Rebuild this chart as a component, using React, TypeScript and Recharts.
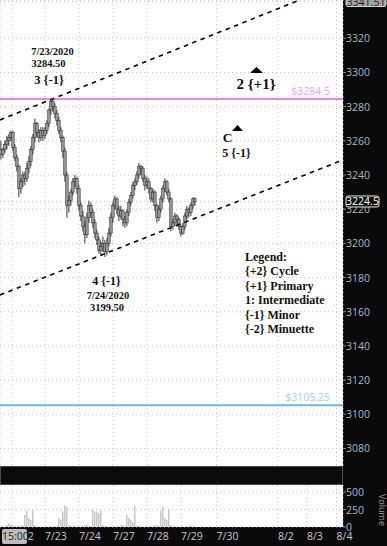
import React from 'react';
import {
  ComposedChart,
  Bar,
  XAxis,
  YAxis,
  CartesianGrid,
  ReferenceLine,
  ReferenceDot,
} from 'recharts';

// ---------- data ----------
// hourly-ish bars: [open, high, low, close]
const candles: [number, number, number, number][] = [
  [3255, 3260, 3249, 3252], [3252, 3256, 3250, 3255], [3255, 3260, 3253, 3258], [3258, 3263, 3255, 3260],
  [3260, 3264, 3257, 3262], [3262, 3266, 3260, 3265], [3265, 3266, 3254, 3256], [3256, 3258, 3248, 3250],
  [3250, 3252, 3242, 3245], [3245, 3246, 3227, 3232], [3232, 3238, 3229, 3236], [3236, 3242, 3233, 3240],
  [3240, 3242, 3234, 3238], [3238, 3247, 3236, 3244], [3244, 3251, 3241, 3248], [3248, 3257, 3245, 3255],
  [3255, 3264, 3252, 3262], [3262, 3273, 3259, 3270], [3270, 3271, 3262, 3265], [3265, 3267, 3259, 3262],
  [3262, 3268, 3260, 3266], [3266, 3268, 3260, 3263], [3263, 3268, 3261, 3266], [3266, 3272, 3264, 3270],
  [3270, 3279, 3268, 3278], [3278, 3284.5, 3275, 3283], [3283, 3284, 3277, 3280], [3280, 3282, 3273, 3276],
  [3276, 3278, 3269, 3272], [3272, 3274, 3264, 3266], [3266, 3268, 3259, 3262], [3262, 3263, 3250, 3254],
  [3254, 3256, 3236, 3240], [3240, 3242, 3215, 3222], [3222, 3228, 3218, 3225], [3225, 3232, 3222, 3230],
  [3230, 3238, 3228, 3236], [3236, 3240, 3233, 3238], [3238, 3239, 3229, 3232], [3232, 3234, 3219, 3222],
  [3222, 3224, 3213, 3216], [3216, 3219, 3207, 3210], [3210, 3213, 3200, 3205], [3205, 3218, 3203, 3215],
  [3215, 3225, 3212, 3222], [3222, 3224, 3215, 3218], [3218, 3220, 3209, 3212], [3212, 3214, 3203, 3206],
  [3206, 3208, 3199, 3202], [3202, 3204, 3194, 3196], [3196, 3201, 3193, 3198], [3198, 3204, 3195, 3200],
  [3200, 3202, 3192, 3195], [3195, 3203, 3193, 3200], [3200, 3209, 3198, 3206], [3206, 3218, 3204, 3215],
  [3215, 3224, 3212, 3222], [3222, 3228, 3220, 3226], [3226, 3227, 3217, 3220], [3220, 3222, 3213, 3216],
  [3216, 3222, 3214, 3219], [3219, 3220, 3210, 3214], [3214, 3216, 3209, 3212], [3212, 3220, 3210, 3218],
  [3218, 3226, 3216, 3224], [3224, 3230, 3222, 3228], [3228, 3236, 3226, 3234], [3234, 3238, 3231, 3236],
  [3236, 3242, 3234, 3240], [3240, 3247, 3238, 3245], [3245, 3246, 3240, 3244], [3244, 3245, 3236, 3238],
  [3238, 3240, 3231, 3234], [3234, 3239, 3232, 3236], [3236, 3238, 3229, 3232], [3232, 3233, 3224, 3226],
  [3226, 3232, 3224, 3230], [3230, 3231, 3219, 3222], [3222, 3223, 3212, 3215], [3215, 3222, 3213, 3220],
  [3220, 3228, 3218, 3226], [3226, 3234, 3224, 3232], [3232, 3238, 3230, 3236], [3236, 3237, 3228, 3230],
  [3230, 3232, 3224, 3226], [3226, 3227, 3207, 3210], [3210, 3214, 3208, 3212], [3212, 3218, 3210, 3216],
  [3216, 3217, 3211, 3214], [3214, 3215, 3208, 3210], [3210, 3211, 3204, 3206], [3206, 3212, 3205, 3210],
  [3210, 3218, 3208, 3216], [3216, 3222, 3214, 3220], [3220, 3221, 3215, 3218], [3218, 3224, 3216, 3222],
  [3222, 3227, 3220, 3226], [3226, 3227, 3222, 3224.5],
];

const volumes: number[] = [
  10, 8, 5, 30, 55, 40, 20, 15, 10, 12, 20, 25,
  170, 235, 130, 100, 235,
  20, 10, 8, 5, 5, 5, 8, 10, 6, 5, 12, 15,
  130, 100, 220, 310, 290,
  30, 20, 15, 10, 8, 6, 5, 10, 20, 35, 15, 10,
  255, 220, 220, 200, 235,
  25, 15, 10, 8, 5, 5, 6, 10, 15, 20, 25, 15,
  170, 130, 100, 70, 300,
  25, 15, 10, 8, 5, 5, 8, 10, 12, 20, 25, 15,
  230, 290, 130, 100, 255,
  25, 15, 10, 8, 5, 5, 5, 8, 10, 15, 20, 10, 5,
];

const dayTicks = [6, 22.5, 39.5, 56.5, 73.5, 90.5, 108.3, 139, 153.5, 168.3];
const dayLabels = ['7/22', '7/23', '7/24', '7/27', '7/28', '7/29', '7/30', '8/2', '8/3', '8/4'];
const slotDomain: [number, number] = [0, 171.5];

const priceTicks = [3080, 3100, 3120, 3140, 3160, 3180, 3200, 3220, 3240, 3260, 3280, 3300, 3320];
const priceDomain: [number, number] = [3069.7, 3342.4];
const lastPrice = 3224.5;
const highMark = 3341.51;
const resistance = 3284.5;
const support = 3105.25;

const volumeTicks = [0, 250, 500];
const volumeDomain: [number, number] = [0, 600];

const upperChannel = [
  { slot: 0, price: 3272.2 },
  { slot: 149, price: 3342 },
];
const lowerChannel = [
  { slot: 0, price: 3169.8 },
  { slot: 171.5, price: 3248.8 },
];

const annotations = [
  { slot: 26.25, price: 3312.0, text: '7/23/2020', size: 10.5 },
  { slot: 24.25, price: 3305.0, text: '3284.50', size: 10.5 },
  { slot: 24.5, price: 3295.6, text: '3 {-1}', size: 12.5 },
  { slot: 128, price: 3293.3, text: '2 {+1}', size: 15 },
  { slot: 113.75, price: 3262.2, text: 'C', size: 13.5 },
  { slot: 118.25, price: 3252.9, text: '5 {-1}', size: 12 },
  { slot: 53.25, price: 3178.0, text: '4 {-1}', size: 12 },
  { slot: 54, price: 3169.4, text: '7/24/2020', size: 10.5 },
  { slot: 53.5, price: 3162.2, text: '3199.50', size: 10.5 },
];

const triangles = [
  { slot: 128.25, price: 3301.5, w: 13, h: 6 },
  { slot: 118.75, price: 3267.5, w: 11, h: 6 },
];

const legendLines = ['Legend:', '{+2} Cycle', '{+1} Primary', '1: Intermediate', '{-1} Minor', '{-2} Minuette'];
const legendSlot = 122.5;
const legendPrices = [3192.2, 3183.7, 3175.1, 3166.6, 3158.1, 3149.6];

// ---------- derived tables ----------
const candleData = candles.map(([o, h, l, c], i) => ({ slot: i + 0.5, range: [l, h], o, h, l, c }));
const volumeData = volumes.map((v, i) => ({ slot: i + 0.5, vol: v }));

const SERIF = '"Liberation Serif", "Times New Roman", serif';
const SANS = '"Open Sans", Roboto, "DejaVu Sans", sans-serif';

const Candle = (props: any) => {
  const { x, y, width, height, payload } = props;
  if (x == null || y == null) return null;
  const { o, h, l, c } = payload;
  const span = h - l || 1;
  const py = (v: number) => y + ((h - v) / span) * height;
  const cx = x + width / 2;
  const top = Math.min(py(o), py(c));
  const bh = Math.max(1, Math.abs(py(o) - py(c)));
  return (
    <g>
      <line x1={cx} x2={cx} y1={y} y2={y + height} stroke="#333" strokeWidth={1} />
      <rect x={cx - 1.3} y={top} width={2.6} height={bh} fill="#959595" stroke="#2a2a2a" strokeWidth={0.5} />
    </g>
  );
};

const PriceTick = (props: any) => {
  const { x, y, payload } = props;
  const v = payload.value;
  if (v === lastPrice) {
    return (
      <g>
        <rect x={x + 3} y={y - 5.5} width={33} height={11} rx={2} fill="#111" stroke="#e6e6e6" strokeWidth={1} />
        <text x={x + 19.5} y={y} fill="#fff" fontSize={10.5} fontFamily={SANS} textAnchor="middle" dominantBaseline="central">
          {v}
        </text>
      </g>
    );
  }
  if (v === highMark) {
    return (
      <g>
        <rect x={x + 3} y={y - 6} width={40} height={11} rx={2} fill="#a3a3a3" stroke="#d8d8d8" strokeWidth={1} />
        <text x={x + 23} y={y} fill="#222" fontSize={10.5} fontFamily={SANS} textAnchor="middle" dominantBaseline="central">
          {v}
        </text>
      </g>
    );
  }
  return (
    <g>
      <line x1={x} x2={x + 3} y1={y} y2={y} stroke="#888" strokeWidth={1} />
      <text x={x + 3} y={y} fill="#b4b4b4" fontSize={10.5} fontFamily={SANS} textAnchor="start" dominantBaseline="central">
        {v}
      </text>
    </g>
  );
};

const VolumeTick = (props: any) => {
  const { x, y, payload } = props;
  return (
    <g>
      <line x1={x} x2={x + 3} y1={y} y2={y} stroke="#888" strokeWidth={1} />
      <text x={x + 3} y={y} fill="#b4b4b4" fontSize={10.5} fontFamily={SANS} textAnchor="start" dominantBaseline="central">
        {payload.value}
      </text>
    </g>
  );
};

const DateTick = (props: any) => {
  const { x, y, payload } = props;
  const idx = dayTicks.indexOf(payload.value);
  return (
    <text x={x} y={y + 9} fill="#c8c8c8" fontSize={10.5} fontFamily={SANS} textAnchor="start" dominantBaseline="central">
      {dayLabels[idx]}
    </text>
  );
};

const textShape = (text: string, size: number, anchor: 'middle' | 'start') => (p: any) => (
  <text
    x={p.cx}
    y={p.cy}
    fontFamily={SERIF}
    fontWeight="bold"
    fontSize={size}
    fill="#111"
    textAnchor={anchor}
    dominantBaseline="central"
  >
    {text}
  </text>
);

const triShape = (w: number, h: number) => (p: any) => (
  <path d={`M${p.cx - w / 2},${p.cy + h / 2} L${p.cx},${p.cy - h / 2} L${p.cx + w / 2},${p.cy + h / 2} Z`} fill="#000" />
);

const lineLabel = (text: string, color: string) => (props: any) => {
  const vb = props.viewBox || {};
  return (
    <text
      x={vb.x + vb.width - 13}
      y={vb.y - 8}
      fill={color}
      fontSize={10.5}
      fontFamily={SANS}
      textAnchor="end"
      dominantBaseline="central"
    >
      {text}
    </text>
  );
};

export default function App() {
  return (
    <div
      style={{
        position: 'absolute',
        left: 0,
        top: 0,
        width: 387,
        height: 546,
        background: '#0a0a0a',
        overflow: 'hidden',
      }}
    >
      <ComposedChart width={387} height={466} data={candleData} margin={{ top: 0, right: 0, bottom: 0, left: 0 }}>
        <CartesianGrid fill="#ffffff" stroke="#c4c4c4" strokeDasharray="1 3" />
        <XAxis type="number" dataKey="slot" domain={slotDomain} ticks={dayTicks} hide allowDataOverflow />
        <YAxis
          orientation="right"
          width={44}
          domain={priceDomain}
          ticks={[...priceTicks, lastPrice, highMark]}
          interval={0}
          tick={<PriceTick />}
          tickSize={0}
          tickMargin={0}
          axisLine={false}
          allowDataOverflow
        />
        <ReferenceLine y={resistance} stroke="#ea86ea" strokeWidth={2} label={lineLabel('$3284.5', '#f2a2f2')} />
        <ReferenceLine y={support} stroke="#6bb8e4" strokeWidth={2} label={lineLabel('$3105.25', '#9ccff0')} />
        <ReferenceLine
          segment={[
            { x: upperChannel[0].slot, y: upperChannel[0].price },
            { x: upperChannel[1].slot, y: upperChannel[1].price },
          ]}
          stroke="#000"
          strokeWidth={1.6}
          strokeDasharray="4.5 4.5"
        />
        <ReferenceLine
          segment={[
            { x: lowerChannel[0].slot, y: lowerChannel[0].price },
            { x: lowerChannel[1].slot, y: lowerChannel[1].price },
          ]}
          stroke="#000"
          strokeWidth={1.6}
          strokeDasharray="4.5 4.5"
        />
        <Bar dataKey="range" barSize={2} shape={<Candle />} isAnimationActive={false} />
        {annotations.map((a, i) => (
          <ReferenceDot key={'a' + i} x={a.slot} y={a.price} r={0} shape={textShape(a.text, a.size, 'middle')} />
        ))}
        {triangles.map((t, i) => (
          <ReferenceDot key={'t' + i} x={t.slot} y={t.price} r={0} shape={triShape(t.w, t.h)} />
        ))}
        {legendLines.map((txt, i) => (
          <ReferenceDot key={'l' + i} x={legendSlot} y={legendPrices[i]} r={0} shape={textShape(txt, 12, 'start')} />
        ))}
      </ComposedChart>
      <div
        style={{
          width: 341,
          height: 17,
          background: '#0b0b0b',
          border: '1px solid #4a4a4a',
        }}
      />
      <ComposedChart width={387} height={61} data={volumeData} margin={{ top: 0, right: 0, bottom: 0, left: 0 }}>
        <CartesianGrid fill="#ffffff" stroke="#c4c4c4" strokeDasharray="1 3" />
        <XAxis
          type="number"
          dataKey="slot"
          domain={slotDomain}
          ticks={dayTicks}
          interval={0}
          height={19}
          tick={<DateTick />}
          tickSize={0}
          tickMargin={0}
          axisLine={false}
          allowDataOverflow
        />
        <YAxis
          orientation="right"
          width={44}
          domain={volumeDomain}
          ticks={volumeTicks}
          interval={0}
          tick={<VolumeTick />}
          tickSize={0}
          tickMargin={0}
          axisLine={false}
        />
        <Bar dataKey="vol" barSize={1.5} fill="#c6c6c6" isAnimationActive={false} />
      </ComposedChart>
      <div
        style={{
          position: 'absolute',
          left: 2,
          top: 529,
          width: 25,
          height: 15,
          background: '#bdbdbd',
          borderRadius: 2,
          color: '#222',
          fontFamily: SANS,
          fontSize: 10.5,
          lineHeight: '15px',
          textAlign: 'center',
        }}
      >
        15:00
      </div>
      <div
        style={{
          position: 'absolute',
          left: 389,
          top: 494,
          color: '#9a9a9a',
          fontFamily: SANS,
          fontSize: 9,
          transform: 'rotate(90deg)',
          transformOrigin: 'left top',
          whiteSpace: 'nowrap',
        }}
      >
        Volume
      </div>
    </div>
  );
}
